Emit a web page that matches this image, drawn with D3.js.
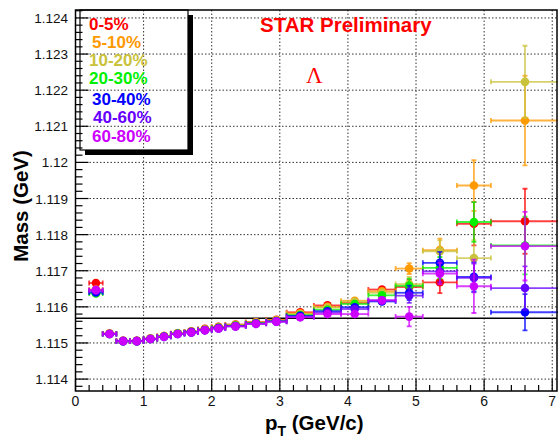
<!DOCTYPE html>
<html><head><meta charset="utf-8">
<script src="https://cdn.jsdelivr.net/npm/d3@7"></script>
<style>body{margin:0;background:#fff}svg{display:block}text{font-family:"Liberation Sans",Arial,sans-serif}</style>
</head><body>
<svg id="c" width="558" height="440"></svg>
<script>
const pT   = [0.3,0.5,0.7,0.9,1.1,1.3,1.5,1.7,1.9,2.1,2.35,2.65,2.95,3.3,3.7,4.1,4.5,4.9,5.35,5.85,6.6];
const pTErr= [0.1,0.1,0.1,0.1,0.1,0.1,0.1,0.1,0.1,0.1,0.15,0.15,0.15,0.2,0.2,0.2,0.2,0.2,0.25,0.25,0.5];
const centralities = ["0-5%","5-10%","10-20%","20-30%","30-40%","40-60%","60-80%"];
const colors = ["#ff0000","#ff9900","#c9c23a","#00f000","#0000ff","#6600ff","#cc00ff"];
const mass0_5   = [1.11666,1.11526,1.11506,1.11506,1.11512,1.11519,1.11527,1.11532,1.11539,1.11545,1.11551,1.11558,1.11564,1.11585,1.11604,1.11611,1.11648,1.11655,1.11668,1.11830,1.11837];
const mass5_10  = [1.11648,1.11526,1.11506,1.11506,1.11512,1.11519,1.11527,1.11531,1.11538,1.11544,1.11550,1.11557,1.11563,1.11582,1.11600,1.11617,1.11643,1.11706,1.11757,1.11936,1.12116];
const mass10_20 = [1.11645,1.11525,1.11505,1.11505,1.11512,1.11518,1.11526,1.11531,1.11537,1.11543,1.11549,1.11556,1.11562,1.11580,1.11598,1.11614,1.11639,1.11663,1.11754,1.11735,1.12223];
const mass20_30 = [1.11637,1.11525,1.11505,1.11505,1.11511,1.11518,1.11526,1.11530,1.11536,1.11542,1.11548,1.11555,1.11561,1.11577,1.11592,1.11608,1.11632,1.11658,1.11708,1.11835,1.11770];
const mass30_40 = [1.11640,1.11525,1.11505,1.11505,1.11511,1.11517,1.11525,1.11530,1.11536,1.11541,1.11547,1.11554,1.11560,1.11575,1.11588,1.11599,1.11615,1.11639,1.11722,1.11683,1.11585];
const mass40_60 = [1.11645,1.11525,1.11505,1.11505,1.11511,1.11517,1.11525,1.11529,1.11535,1.11540,1.11546,1.11553,1.11559,1.11572,1.11584,1.11594,1.11618,1.11631,1.11698,1.11680,1.11652];
const mass60_80 = [1.11647,1.11525,1.11505,1.11505,1.11511,1.11517,1.11525,1.11529,1.11535,1.11540,1.11546,1.11553,1.11559,1.11571,1.11580,1.11580,1.11618,1.11573,1.11692,1.11657,1.11768];
const errLow = [0.00003,0.00002,0.00002,0.00002,0.00002,0.00002,0.00002,0.00002,0.00003,0.00003,0.00003,0.00003,0.00004,0.00005,0.00006,0.00008,0.0001];
const errHigh0_5   = [0.0002,0.0003,0.0006,0.0009];
const errHigh5_10  = [0.00015,0.00032,0.0007,0.00124];
const errHigh10_20 = [0.0002,0.0003,0.0005,0.001];
const errHigh20_30 = [0.0002,0.0003,0.00055,0.0008];
const errHigh30_40 = [0.0002,0.0003,0.0004,0.0005];
const errHigh40_60 = [0.0002,0.0003,0.0004,0.0006];
const errHigh60_80 = [0.00027,0.0003,0.00074,0.00095];
const pdgMass = 1.115683;
const yTicks = [1.114,1.115,1.116,1.117,1.118,1.119,1.12,1.121,1.122,1.123,1.124];
const xTicks = [0,1,2,3,4,5,6,7];

const masses = [mass0_5,mass5_10,mass10_20,mass20_30,mass30_40,mass40_60,mass60_80];
const errHighs = [errHigh0_5,errHigh5_10,errHigh10_20,errHigh20_30,errHigh30_40,errHigh40_60,errHigh60_80];

const svg = d3.select("#c");
const L=75.5, R=557, T=10, B=391;
const x = d3.scaleLinear().domain([0,7.07]).range([L,R]);
const y = d3.scaleLinear().domain([1.11367,1.12422]).range([B,T]);

// grid
const g = svg.append("g");
g.selectAll(".gx").data(xTicks.filter(d=>d>0)).join("line")
  .attr("x1",d=>x(d)).attr("x2",d=>x(d)).attr("y1",T).attr("y2",B)
  .attr("stroke","#333").attr("stroke-width",1).attr("stroke-dasharray","1.5,2");
g.selectAll(".gy").data(yTicks).join("line")
  .attr("x1",L).attr("x2",R).attr("y1",d=>y(d)).attr("y2",d=>y(d))
  .attr("stroke","#333").attr("stroke-width",1).attr("stroke-dasharray","1.5,2");

// minor ticks
const yMinor = d3.range(0,56).map(i=>1.1138+i*0.0002).filter(v=>v<=1.1242);
svg.append("g").selectAll("line").data(yMinor).join("line")
  .attr("x1",L).attr("x2",d=>L+(Math.abs(Math.round(d*1000)-d*1000)<1e-6?13:7))
  .attr("y1",d=>y(d)).attr("y2",d=>y(d)).attr("stroke","#000").attr("stroke-width",1.2);
const xMinor = d3.range(0,36).map(i=>i*0.2).filter(v=>v<=7.05);
svg.append("g").selectAll("line").data(xMinor).join("line")
  .attr("x1",d=>x(d)).attr("x2",d=>x(d))
  .attr("y1",B).attr("y2",d=>B-(Math.abs(Math.round(d)-d)<1e-6?12:6))
  .attr("stroke","#000").attr("stroke-width",1.2);

// tick labels
svg.append("g").selectAll("text").data(yTicks).join("text")
  .attr("x",68).attr("y",d=>y(d)+5).attr("text-anchor","end")
  .attr("font-size",13.5).attr("fill","#111").text(d=>String(+d.toFixed(3)));
svg.append("g").selectAll("text").data(xTicks).join("text")
  .attr("x",d=>x(d)).attr("y",406).attr("text-anchor","middle")
  .attr("font-size",14).attr("fill","#111").text(d=>d);

// PDG line
svg.append("line").attr("x1",L).attr("x2",R).attr("y1",y(pdgMass)).attr("y2",y(pdgMass))
  .attr("stroke","#000").attr("stroke-width",1.6);

// data
masses.forEach((m,si)=>{
  const col = colors[si];
  const err = errLow.concat(errHighs[si]);
  const pts = pT.map((p,i)=>({p, m:m[i], ex:pTErr[i], ey:err[i]}));
  const sg = svg.append("g").attr("stroke",col).attr("stroke-width",1.8).attr("stroke-opacity",0.75);
  sg.selectAll(".h").data(pts).join("line")
    .attr("x1",d=>x(d.p-d.ex)).attr("x2",d=>x(d.p+d.ex)).attr("y1",d=>y(d.m)).attr("y2",d=>y(d.m));
  sg.selectAll(".v").data(pts).join("line")
    .attr("x1",d=>x(d.p)).attr("x2",d=>x(d.p)).attr("y1",d=>y(d.m-d.ey)).attr("y2",d=>y(d.m+d.ey));
  sg.selectAll(".ch").data(pts).join("path")
    .attr("d",d=>`M${x(d.p-d.ex)},${y(d.m)-2.5}v5M${x(d.p+d.ex)},${y(d.m)-2.5}v5`).attr("fill","none");
  sg.selectAll(".cv").data(pts.filter(d=>y(d.m-d.ey)-y(d.m+d.ey)>9)).join("path")
    .attr("d",d=>`M${x(d.p)-2.5},${y(d.m+d.ey)}h5M${x(d.p)-2.5},${y(d.m-d.ey)}h5`).attr("fill","none");
  svg.append("g").selectAll("circle").data(pts).join("circle")
    .attr("cx",d=>x(d.p)).attr("cy",d=>y(d.m)).attr("r",4.3).attr("fill",col);
});

// frame
svg.append("rect").attr("x",L).attr("y",T).attr("width",R-L).attr("height",B-T)
  .attr("fill","none").attr("stroke","#000").attr("stroke-width",1.5);

// legend
svg.append("rect").attr("x",80).attr("y",10).attr("width",108).attr("height",140)
  .attr("fill","none").attr("stroke","#000").attr("stroke-width",1.2);
svg.append("path").attr("d","M188,15H193V155H85V150H188Z").attr("fill","#000");
const legX = [89,92,89,89,92,93,92];
const legY = [30,48,66,84,105,123,142];
svg.append("g").selectAll("text").data(centralities).join("text")
  .attr("x",(d,i)=>legX[i]).attr("y",(d,i)=>legY[i])
  .attr("font-size",17).attr("font-weight","bold").attr("fill",(d,i)=>colors[i]).text(d=>d);

// titles
svg.append("text").attr("x",260).attr("y",32).attr("font-size",20.5).attr("font-weight","bold")
  .attr("fill","#ff0000").text("STAR Preliminary");
svg.append("text").attr("x",306).attr("y",83).attr("font-size",23)
  .style("font-family","'Liberation Serif','DejaVu Serif','Times New Roman',serif").attr("fill","#ff0000").text("Λ");
svg.append("text").attr("transform","translate(28,206) rotate(-90)").attr("text-anchor","middle")
  .attr("font-size",20.5).attr("font-weight","bold").attr("fill","#000").text("Mass (GeV)");
const xl = svg.append("text").attr("x",265).attr("y",430).attr("font-size",20.5).attr("font-weight","bold").attr("fill","#000");
xl.append("tspan").text("p");
xl.append("tspan").attr("font-size",14).attr("dy",6).text("T");
xl.append("tspan").attr("dy",-6).text(" (GeV/c)");
</script>
</body></html>
